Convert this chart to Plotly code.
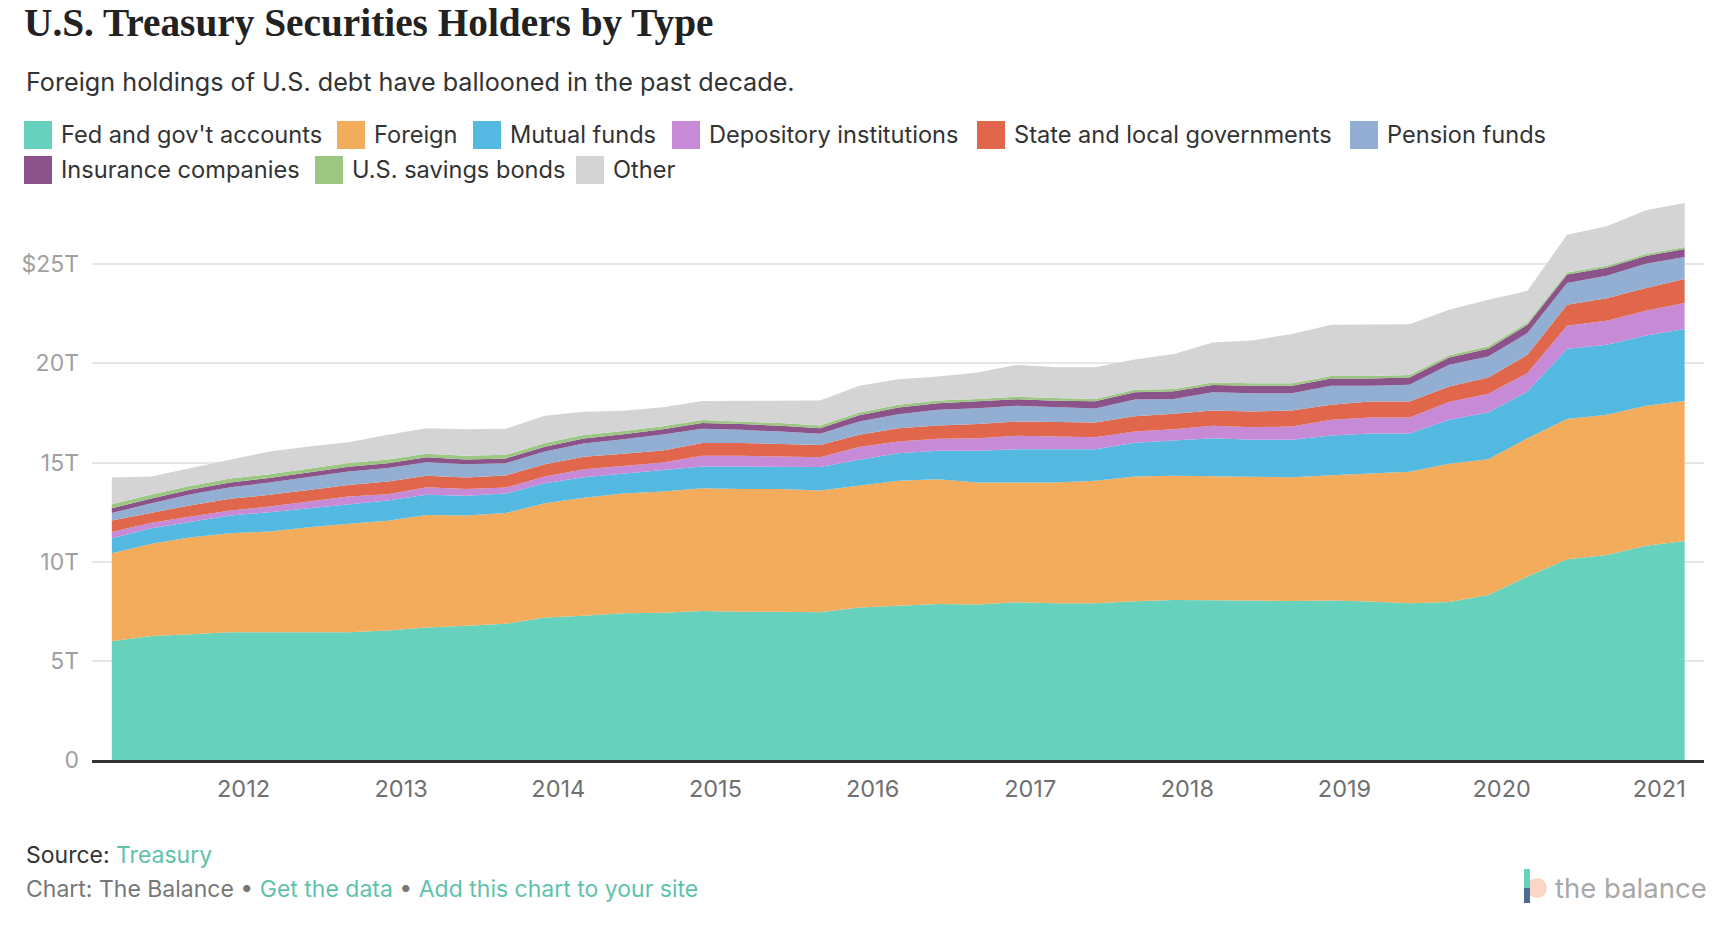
import pandas as pd
import plotly.graph_objects as go

# quarterly observations, Mar 2011 .. Mar 2021 (trillions of dollars)
dates = pd.date_range("2011-03-01", periods=41, freq="3MS")

fed = [5.99, 6.25, 6.34, 6.44, 6.44, 6.44, 6.44, 6.53, 6.68, 6.77, 6.87, 7.18, 7.27, 7.40,
       7.43, 7.52, 7.48, 7.48, 7.45, 7.69, 7.77, 7.87, 7.84, 7.95, 7.90, 7.90, 8.00, 8.07,
       8.06, 8.04, 8.02, 8.04, 7.99, 7.90, 7.97, 8.32, 9.25, 10.12, 10.34, 10.80, 11.05]
foreign = [4.44, 4.65, 4.89, 5.00, 5.08, 5.30, 5.47, 5.53, 5.68, 5.56, 5.58, 5.77, 5.95, 6.04,
           6.11, 6.18, 6.19, 6.18, 6.14, 6.15, 6.31, 6.29, 6.15, 6.04, 6.09, 6.18, 6.30, 6.26,
           6.24, 6.26, 6.24, 6.32, 6.46, 6.63, 6.97, 6.85, 6.98, 7.07, 7.07, 7.06, 7.06]
mutual = [0.75, 0.79, 0.79, 0.89, 0.98, 0.96, 1.01, 1.02, 1.01, 0.99, 0.99, 1.01, 1.04, 0.99,
          1.06, 1.10, 1.13, 1.14, 1.18, 1.30, 1.39, 1.43, 1.60, 1.68, 1.68, 1.59, 1.70, 1.78,
          1.93, 1.85, 1.89, 2.01, 2.02, 1.94, 2.22, 2.35, 2.35, 3.55, 3.53, 3.55, 3.62]
depository = [0.32, 0.28, 0.26, 0.25, 0.28, 0.33, 0.37, 0.32, 0.39, 0.34, 0.30, 0.34, 0.40, 0.40,
              0.40, 0.54, 0.54, 0.50, 0.50, 0.64, 0.59, 0.61, 0.64, 0.68, 0.64, 0.61, 0.57, 0.57,
              0.62, 0.63, 0.67, 0.79, 0.80, 0.80, 0.89, 0.95, 0.93, 1.16, 1.21, 1.24, 1.31]
state_local = [0.58, 0.51, 0.57, 0.59, 0.59, 0.59, 0.58, 0.64, 0.57, 0.58, 0.61, 0.62, 0.63, 0.62,
               0.61, 0.64, 0.64, 0.64, 0.62, 0.62, 0.67, 0.67, 0.71, 0.72, 0.74, 0.74, 0.77, 0.78,
               0.78, 0.80, 0.81, 0.75, 0.81, 0.81, 0.79, 0.82, 0.92, 1.06, 1.13, 1.15, 1.21]
pension = [0.37, 0.47, 0.55, 0.59, 0.62, 0.64, 0.68, 0.68, 0.69, 0.68, 0.62, 0.64, 0.67, 0.72,
           0.80, 0.72, 0.67, 0.62, 0.56, 0.67, 0.71, 0.79, 0.80, 0.79, 0.73, 0.71, 0.84, 0.75,
           0.92, 0.92, 0.87, 0.96, 0.79, 0.84, 1.09, 1.06, 1.10, 1.09, 1.14, 1.23, 1.11]
insurance = [0.25, 0.24, 0.24, 0.24, 0.23, 0.23, 0.24, 0.25, 0.25, 0.24, 0.24, 0.24, 0.25, 0.26,
             0.27, 0.29, 0.29, 0.29, 0.28, 0.31, 0.33, 0.33, 0.34, 0.33, 0.34, 0.36, 0.37, 0.38,
             0.36, 0.37, 0.37, 0.37, 0.37, 0.37, 0.37, 0.39, 0.42, 0.43, 0.40, 0.39, 0.41]
savings = [0.20, 0.20, 0.19, 0.19, 0.19, 0.19, 0.19, 0.18, 0.18, 0.18, 0.18, 0.18, 0.18, 0.16,
           0.15, 0.15, 0.14, 0.14, 0.14, 0.14, 0.14, 0.14, 0.13, 0.13, 0.13, 0.12, 0.12, 0.12,
           0.13, 0.13, 0.13, 0.13, 0.13, 0.13, 0.11, 0.12, 0.11, 0.11, 0.11, 0.10, 0.10]
other = [1.34, 0.91, 0.89, 0.95, 1.15, 1.13, 1.05, 1.25, 1.28, 1.34, 1.31, 1.38, 1.17, 1.02,
         0.96, 0.97, 1.03, 1.12, 1.26, 1.35, 1.29, 1.21, 1.33, 1.61, 1.56, 1.60, 1.53, 1.76,
         2.02, 2.16, 2.48, 2.58, 2.61, 2.56, 2.29, 2.35, 1.60, 1.90, 1.98, 2.20, 2.22]

names = ["Fed and gov't accounts", "Foreign", "Mutual funds", "Depository institutions",
         "State and local governments", "Pension funds", "Insurance companies",
         "U.S. savings bonds", "Other"]
series = [fed, foreign, mutual, depository, state_local, pension, insurance, savings, other]
colors = ["#66d2bd", "#f2ac5b", "#54b9e1", "#c68ad7", "#e0674b", "#93aed3", "#8b5389",
          "#9cc783", "#d4d4d4"]

year_ticks = ["%d-01-01" % y for y in range(2012, 2022)]
year_labels = [str(y) for y in range(2012, 2022)]
y_ticks = [0, 5, 10, 15, 20, 25]
y_labels = ["0", "5T", "10T", "15T", "20T", "$25T"]

W, H = 1722, 928
ML, MR, MT, MB = 92, 18, 190, 168
PW, PH = W - ML - MR, H - MT - MB
SANS = "Inter, Roboto, sans-serif"
TEAL = "#5fc2ab"


def px(x):
    return (x - ML) / PW


def py(y):
    return (H - MB - y) / PH


fig = go.Figure()
for name, vals, c in zip(names, series, colors):
    fig.add_trace(go.Scatter(x=dates, y=vals, name=name, stackgroup="one", mode="lines",
                             line=dict(width=0, color=c), fillcolor=c, showlegend=False))

shapes = []
annotations = []

# hand-built legend: big square swatches like the original
leg_pos = [(24, 135), (337, 135), (473, 135), (672, 135), (977, 135), (1350, 135),
           (24, 170), (315, 170), (576, 170)]
for (lx, ly), name, c in zip(leg_pos, names, colors):
    shapes.append(dict(type="rect", xref="paper", yref="paper", x0=px(lx), x1=px(lx + 28),
                       y0=py(ly - 14), y1=py(ly + 14), fillcolor=c, line=dict(width=0)))
    annotations.append(dict(xref="paper", yref="paper", x=px(lx + 35), y=py(ly),
                            xanchor="left", yanchor="middle", showarrow=False, text=name,
                            font=dict(family=SANS, size=23.6, color="#333333")))

annotations.append(dict(xref="paper", yref="paper", x=px(22), y=py(23), xanchor="left",
                        yanchor="middle", showarrow=False,
                        text="<b>U.S. Treasury Securities Holders by Type</b>",
                        font=dict(family="Liberation Serif, serif", size=39.3, color="#222222")))
annotations.append(dict(xref="paper", yref="paper", x=px(24), y=py(82), xanchor="left",
                        yanchor="middle", showarrow=False,
                        text="Foreign holdings of U.S. debt have ballooned in the past decade.",
                        font=dict(family=SANS, size=25.2, color="#333333")))
annotations.append(dict(xref="paper", yref="paper", x=px(24), y=py(855), xanchor="left",
                        yanchor="middle", showarrow=False,
                        text="Source: <span style='color:%s'>Treasury</span>" % TEAL,
                        font=dict(family=SANS, size=23, color="#333333")))
annotations.append(dict(xref="paper", yref="paper", x=px(24), y=py(889), xanchor="left",
                        yanchor="middle", showarrow=False,
                        text=("Chart: The Balance • <span style='color:%s'>Get the data</span>"
                              " • <span style='color:%s'>Add this chart to your site</span>")
                        % (TEAL, TEAL),
                        font=dict(family=SANS, size=23, color="#777777")))
# logo
annotations.append(dict(xref="paper", yref="paper", x=px(1553), y=py(888), xanchor="left",
                        yanchor="middle", showarrow=False, text="the balance",
                        font=dict(family=SANS, size=27.5, color="#a8a8a8")))
shapes.append(dict(type="circle", xref="paper", yref="paper", x0=px(1527), x1=px(1547),
                   y0=py(878), y1=py(898), fillcolor="#f9d6c6", line=dict(width=0)))
shapes.append(dict(type="rect", xref="paper", yref="paper", x0=px(1524), x1=px(1530),
                   y0=py(869), y1=py(888), fillcolor="#66d2bd", line=dict(width=0)))
shapes.append(dict(type="rect", xref="paper", yref="paper", x0=px(1524), x1=px(1530),
                   y0=py(888), y1=py(903), fillcolor="#4d6b8c", line=dict(width=0)))

fig.update_layout(
    width=W, height=H,
    margin=dict(l=ML, r=MR, t=MT, b=MB),
    paper_bgcolor="white", plot_bgcolor="white",
    showlegend=False,
    hovermode=False,
    shapes=shapes,
    annotations=annotations,
    xaxis=dict(type="date", range=["2011-01-14", "2021-04-15"], tickvals=year_ticks,
               ticktext=year_labels, showgrid=False, zeroline=False, showline=True,
               linecolor="#333333", linewidth=2.5, ticks="", ticklabelstandoff=6,
               tickfont=dict(family=SANS, size=23.5, color="#707070")),
    yaxis=dict(range=[0, PH / 19.83], tickvals=y_ticks, ticktext=y_labels, showgrid=True,
               gridcolor="#e6e6e6", gridwidth=1.5, zeroline=False, showline=False, ticks="",
               ticklabelstandoff=12,
               tickfont=dict(family=SANS, size=23, color="#a0a0a0")),
)

# the page body has an 8px default margin; drop it so the figure sits at 0,0
fig.write_html("out.html", config={"displayModeBar": False},
               post_script="document.body.style.margin='0';")
